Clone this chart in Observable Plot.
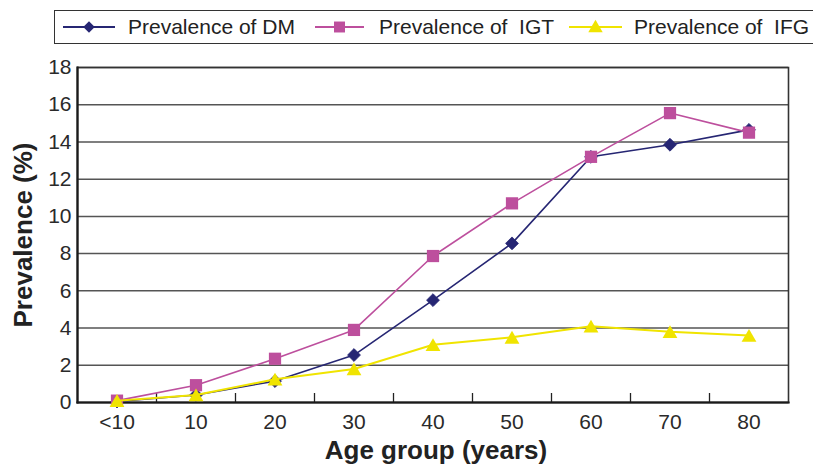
<!DOCTYPE html>
<html>
<head>
<meta charset="utf-8">
<script src="https://cdn.jsdelivr.net/npm/d3@7"></script>
<script src="https://cdn.jsdelivr.net/npm/@observablehq/plot@0.6"></script>
<style>
  html, body { margin: 0; padding: 0; background: #fff; overflow: hidden; width: 813px; height: 468px; }
  body { font-family: "Liberation Sans", Arial, sans-serif; }
  #legend { position: relative; width: 813px; height: 50px; overflow: hidden; }
  #legend .box { position: absolute; left: 54px; top: 10px; width: 820px; height: 32px; border: 1.5px solid #333; box-sizing: content-box; }
  #legend .lbl { position: absolute; top: 14px; font-size: 21px; line-height: 26px; color: #222; white-space: pre; }
  #legend svg { position: absolute; top: 17px; }
  #chart svg { display: block; }
</style>
</head>
<body>
<div id="legend"><div class="box"></div></div>
<div id="chart"></div>
<script>
// ---- data ----
const ageGroups = ["<10", "10", "20", "30", "40", "50", "60", "70", "80"];
const prevalenceDM  = [0.05, 0.4, 1.15, 2.55, 5.5, 8.55, 13.2, 13.85, 14.65];
const prevalenceIGT = [0.1, 0.93, 2.35, 3.9, 7.87, 10.7, 13.2, 15.55, 14.5];
const prevalenceIFG = [0.1, 0.4, 1.25, 1.8, 3.1, 3.5, 4.1, 3.8, 3.6];
const seriesNames = ["Prevalence of DM", "Prevalence of  IGT", "Prevalence of  IFG"];
const yTicks = [0, 2, 4, 6, 8, 10, 12, 14, 16, 18];
const xLabel = "Age group (years)";
const yLabel = "Prevalence (%)";

const colors = { DM: "#262673", IGT: "#bd4f9d", IFG: "#f0e400" };

const toRows = (vals) => vals.map((v, i) => ({ i, v }));
const dm = toRows(prevalenceDM);
const igt = toRows(prevalenceIGT);
const ifg = toRows(prevalenceIFG);
const idx = ageGroups.map((_, i) => i);
const boundaries = idx.slice(1).map(i => i - 0.5);

const W = 813, H = 418, mT = 17, mB = 66, mL = 77, mR = 25;

const chart = Plot.plot({
  width: W,
  height: H,
  marginTop: mT,
  marginBottom: mB,
  marginLeft: mL,
  marginRight: mR,
  style: { fontFamily: "Liberation Sans, Arial, sans-serif", fontSize: "21px", color: "#2a2a2a", background: "#fff" },
  x: { type: "linear", domain: [-0.5, ageGroups.length - 0.5] },
  y: { domain: [0, 18] },
  marks: [
    Plot.gridY(yTicks, { stroke: "#555", strokeOpacity: 1, strokeWidth: 1.5 }),
    Plot.frame({ stroke: "#333", strokeWidth: 1.6 }),
    Plot.ruleX(boundaries, { stroke: "#222", strokeWidth: 1.3, insetTop: H - mT - mB - 9 }),
    Plot.frame({ anchor: "left", stroke: "#1a1a1a", strokeWidth: 2.2 }),
    Plot.frame({ anchor: "bottom", stroke: "#1a1a1a", strokeWidth: 2.2 }),
    Plot.axisY({ ticks: yTicks, tickSize: 0, tickPadding: 6, label: null, fontSize: 21 }),
    Plot.axisX({ ticks: idx, tickFormat: i => ageGroups[i], tickSize: 0, tickPadding: 12, label: null, fontSize: 21 }),
    Plot.text([yLabel], { frameAnchor: "left", textAnchor: "middle", rotate: -90, dx: -54, fontSize: 26, fontWeight: "bold", fill: "#222", lineAnchor: "middle" }),
    Plot.text([xLabel], { frameAnchor: "bottom", textAnchor: "middle", dy: 48, dx: 3, fontSize: 26, fontWeight: "bold", fill: "#222", lineAnchor: "middle" }),
    // DM
    Plot.line(dm, { x: "i", y: "v", stroke: colors.DM, strokeWidth: 1.6 }),
    Plot.dot(dm, { x: "i", y: "v", symbol: "diamond2", r: 5.8, fill: colors.DM, stroke: colors.DM, strokeWidth: 0.8 }),
    // IGT
    Plot.line(igt, { x: "i", y: "v", stroke: colors.IGT, strokeWidth: 1.6 }),
    Plot.dot(igt, { x: "i", y: "v", symbol: "square", r: 6.9, fill: colors.IGT, stroke: "none" }),
    // IFG
    Plot.line(ifg, { x: "i", y: "v", stroke: colors.IFG, strokeWidth: 2 }),
    Plot.dot(ifg, { x: "i", y: "v", symbol: "triangle", r: 5.5, fill: colors.IFG, stroke: "none", dy: 2 })
  ]
});
document.getElementById("chart").appendChild(chart);

// ---- legend (HTML, above the SVG) ----
const legend = document.getElementById("legend");
const legendItems = [
  { name: seriesNames[0], color: colors.DM, sym: d3.symbolDiamond2, size: 85, x0: 63, x1: 115, tx: 128 },
  { name: seriesNames[1], color: colors.IGT, sym: d3.symbolSquare, size: 120, x0: 315, x1: 364, tx: 379 },
  { name: seriesNames[2], color: colors.IFG, sym: d3.symbolTriangle, size: 90, x0: 569, x1: 622, tx: 634 }
];
for (const it of legendItems) {
  const w = it.x1 - it.x0;
  const svg = d3.create("svg").attr("width", w).attr("height", 20)
    .style("left", it.x0 + "px");
  svg.append("line").attr("x1", 0).attr("x2", w).attr("y1", 10).attr("y2", 10)
    .attr("stroke", it.color).attr("stroke-width", 2);
  svg.append("path").attr("d", d3.symbol(it.sym, it.size)())
    .attr("transform", `translate(${w / 2},${it.sym === d3.symbolTriangle ? 11 : 10})`)
    .attr("fill", it.color);
  legend.appendChild(svg.node());
  const span = document.createElement("span");
  span.className = "lbl";
  span.style.left = it.tx + "px";
  span.textContent = it.name;
  legend.appendChild(span);
}
</script>
</body>
</html>
